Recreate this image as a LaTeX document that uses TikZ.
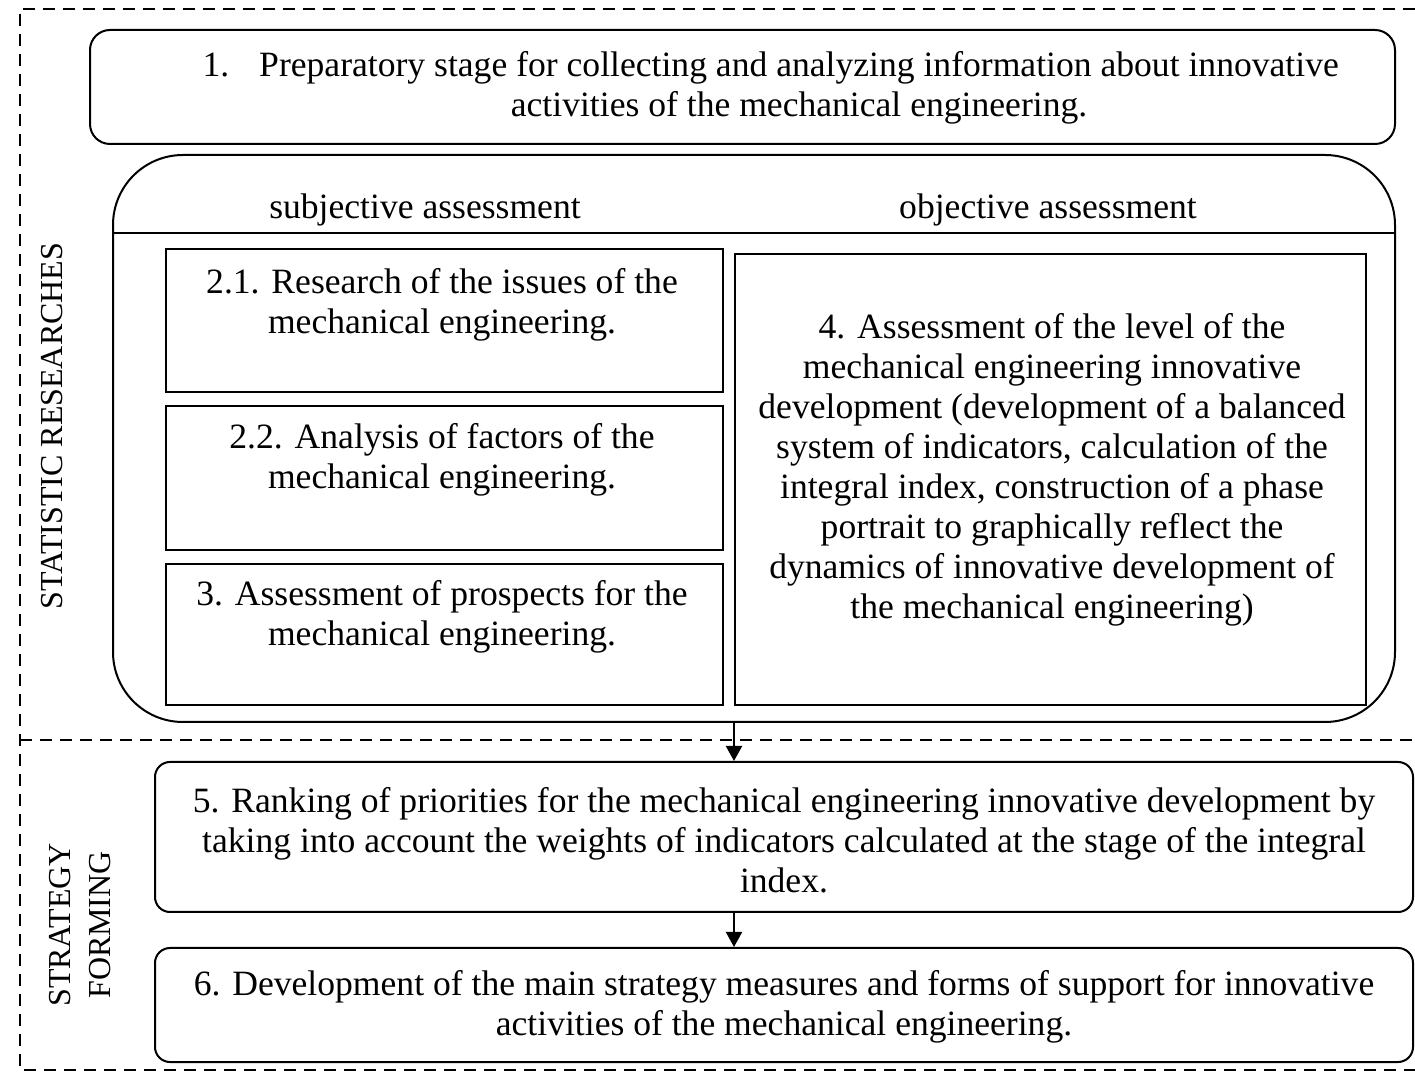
\documentclass[tikz,border=0pt]{standalone}
\usepackage{fontspec}
\setmainfont{Liberation Serif}
\usetikzlibrary{arrows.meta}
\begin{document}
\begin{tikzpicture}[x=0.5pt,y=-0.5pt,
  box/.style={draw, line width=1pt, minimum width=#1, inner sep=0pt},
  txt/.style={align=center, inner sep=0pt, font=\fontsize{17.8}{20}\selectfont},
  side/.style={align=center, inner sep=0pt, rotate=90, font=\fontsize{16}{20}\selectfont},
  frame/.style={dashed, dash pattern=on 6pt off 4pt, line width=1pt},
  arr/.style={line width=1pt, -{Triangle[length=7.5pt,width=8pt]}}]
\useasboundingbox (0,0) rectangle (1415,1074);
% dashed frame
\draw[frame] (1415,9) -- (20,9) -- (20,1070) -- (1415,1070);
\draw[frame] (20,740) -- (1415,740);
% side labels
\node[side] (lstat) at (52,426) {STATISTIC RESEARCHES};
\node[side] (lstrat) at (80,925) {STRATEGY\\FORMING};
% box 1
\node[box=652.5pt, minimum height=57pt, rounded corners=10pt] (b1) at (742.5,87) {};
\node[txt] (t1) at (799,88) {\llap{1.\hspace{15pt}}Preparatory stage for collecting and analyzing information about innovative\\activities of the mechanical engineering.};
% container
\node[box=641pt, minimum height=283.5pt, rounded corners=35pt] (cont) at (754,438.5) {};
\draw[line width=1pt] (cont.west |- 0,233) -- (cont.east |- 0,233);
\node[txt] (hs) at (425,210) {subjective assessment};
\node[txt] (ho) at (1048,210) {objective assessment};
% left boxes
\node[box=278.5pt, minimum height=71.5pt] (b21) at (444.5,320.5) {};
\node[txt] (t21) at (442,305) {2.1. Research of the issues of the\\mechanical engineering.};
\node[box=278.5pt, minimum height=72pt] (b22) at (444.5,478) {};
\node[txt] (t22) at (442,460) {2.2. Analysis of factors of the\\mechanical engineering.};
\node[box=278.5pt, minimum height=70.5pt] (b3) at (444.5,634.5) {};
\node[txt] (t3) at (442,617) {3. Assessment of prospects for the\\mechanical engineering.};
% box 4
\node[box=315.5pt, minimum height=225.5pt] (b4) at (1050.5,479.5) {};
\node[txt] (t4) at (1052,470) {4. Assessment of the level of the\\mechanical engineering innovative\\development (development of a balanced\\system of indicators, calculation of the\\integral index, construction of a phase\\portrait to graphically reflect the\\dynamics of innovative development of\\the mechanical engineering)};
% box 5
\node[box=629pt, minimum height=75pt, rounded corners=7.5pt] (b5) at (784,837) {};
\node[txt] (t5) at (784,840) {5. Ranking of priorities for the mechanical engineering innovative development by\\taking into account the weights of indicators calculated at the stage of the integral\\index.};
% box 6
\node[box=629pt, minimum height=57pt, rounded corners=7.5pt] (b6) at (784,1005) {};
\node[txt] (t6) at (784,1007) {6. Development of the main strategy measures and forms of support for innovative\\activities of the mechanical engineering.};
% arrows
\draw[arr] (b4.south west |- cont.south) -- (b4.south west |- b5.north);
\draw[arr] (b4.south west |- b5.south) -- (b4.south west |- b6.north);
\end{tikzpicture}
\end{document}
